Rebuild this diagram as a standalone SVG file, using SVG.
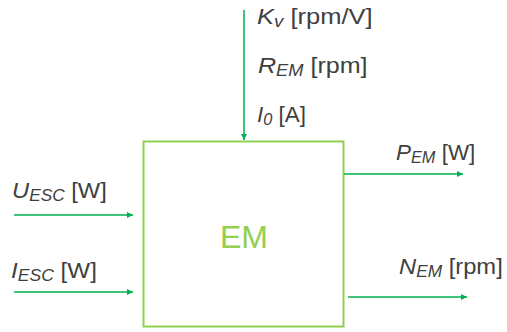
<svg xmlns="http://www.w3.org/2000/svg" width="507" height="332" viewBox="0 0 507 332">
<style>
text{font-family:"Liberation Sans",Arial,sans-serif;fill:#404040;font-size:22px}
.v{font-style:italic}
.s{font-style:italic;font-size:16px}
.c{stroke:#00B050;stroke-width:1.5;fill:none;marker-end:url(#ah)}
</style>
<defs>
<marker id="ah" viewBox="0 0 10 10" refX="10" refY="5" markerWidth="6" markerHeight="6" markerUnits="userSpaceOnUse" orient="auto">
<path d="M0,0L10,5L0,10z" fill="#00B050"/>
</marker>
</defs>
<g id="em">
<rect x="143.5" y="141.5" width="200" height="185" fill="#fff" stroke="#92D050" stroke-width="2"/>
<text x="244" y="248" text-anchor="middle" style="fill:#92D050;font-size:32px">EM</text>
</g>
<g id="connectors">
<path class="c" d="M244,10V140"/>
<path class="c" d="M14,215H133"/>
<path class="c" d="M14,292H133"/>
<path class="c" d="M344,174H463"/>
<path class="c" d="M348,297H467"/>
</g>
<g id="labels">
<text transform="translate(257,24) scale(1.16,1)"><tspan class="v">K</tspan><tspan class="s" dy="3">v</tspan><tspan dy="-3"> [rpm/V]</tspan></text>
<text transform="translate(258,73) scale(1.14,1)"><tspan class="v">R</tspan><tspan class="s" dy="3">EM</tspan><tspan dy="-3"> [rpm]</tspan></text>
<text transform="translate(257,122) scale(1.02,1)"><tspan class="v">I</tspan><tspan class="s" dy="3">0</tspan><tspan dy="-3"> [A]</tspan></text>
<text transform="translate(12,198) scale(1.08,1)"><tspan class="v">U</tspan><tspan class="s" dy="3">ESC</tspan><tspan dy="-3"> [W]</tspan></text>
<text transform="translate(11,278) scale(1.1,1)"><tspan class="v">I</tspan><tspan class="s" dy="3">ESC</tspan><tspan dy="-3"> [W]</tspan></text>
<text transform="translate(396,160) scale(1.02,1)"><tspan class="v">P</tspan><tspan class="s" dy="3">EM</tspan><tspan dy="-3"> [W]</tspan></text>
<text transform="translate(399,274) scale(1.08,1)"><tspan class="v">N</tspan><tspan class="s" dy="3">EM</tspan><tspan dy="-3"> [rpm]</tspan></text>
</g>
</svg>
